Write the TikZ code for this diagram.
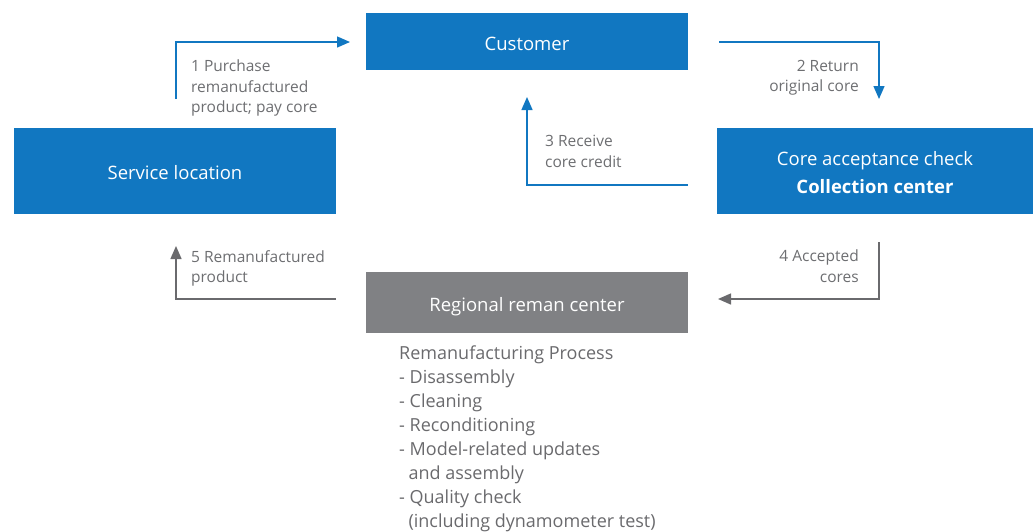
\documentclass[tikz,border=0pt]{standalone}
\usepackage{fontspec}
\setmainfont{Open Sans}
\usetikzlibrary{arrows.meta}
\definecolor{sblue}{HTML}{1177C1}
\definecolor{sgray}{HTML}{808184}
\definecolor{lgray}{HTML}{6D6E71}
\definecolor{agray}{HTML}{6A6A6D}
\tikzset{
  box/.style={fill=#1, draw=none, inner sep=0pt, outer sep=0pt},
  boxtext/.style={text=white, inner sep=0pt, font=\fontsize{18.5}{22}\selectfont, align=center},
  lbl/.style={text=lgray, inner sep=0pt, font=\fontsize{15.5}{20.5}\selectfont},
  conn/.style={draw=#1, line width=1.4pt, -{Triangle[length=13pt,width=11pt]}},
}
\begin{document}
\begin{tikzpicture}[x=1pt,y=-1pt]
\useasboundingbox (0,0) rectangle (1033,531);
\node[box=sblue, minimum width=322pt, minimum height=57pt] (cust) at (527,41.5) {};
\node[boxtext] (custt) at ([yshift=-2pt]cust.center) {Customer};
\node[box=sblue, minimum width=322pt, minimum height=86pt] (serv) at (175,171) {};
\node[boxtext] (servt) at ([yshift=-2pt]serv.center) {Service location};
\node[box=sblue, minimum width=316pt, minimum height=86pt] (core) at (875,171) {};
\node[boxtext] (coret) at ([yshift=-2pt]core.center) {Core acceptance check\\[6pt]\textbf{Collection center}};
\node[box=sgray, minimum width=322pt, minimum height=61pt] (reg) at (527,302.5) {};
\node[boxtext] (regt) at ([yshift=-4pt]reg.center) {Regional reman center};

\coordinate (s1) at (176,99);
\coordinate (e1) at (350,42);
\draw[conn=sblue] (s1) |- (e1);
\coordinate (s2) at (719,42);
\coordinate (e2) at (879,99);
\draw[conn=sblue] (s2) -| (e2);
\coordinate (s3) at (688,185);
\coordinate (e3) at (527,97);
\draw[conn=sblue] (s3) -| (e3);
\coordinate (s4) at (879,242);
\coordinate (e4) at (718,299);
\draw[conn=agray] (s4) |- (e4);
\coordinate (s5) at (336,299);
\coordinate (e5) at (176,246);
\draw[conn=agray] (s5) -| (e5);

\node[lbl, anchor=north west, align=left] (l1) at (191,60) {1 Purchase\\remanufactured\\product; pay core};
\node[lbl, anchor=north east, align=right] (l2) at (859,60) {2 Return\\original core};
\node[lbl, anchor=north west, align=left] (l3) at (545,135) {3 Receive\\core credit};
\node[lbl, anchor=north east, align=right] (l4) at (859,250) {4 Accepted\\cores};
\node[lbl, anchor=north west, align=left] (l5) at (191,250) {5 Remanufactured\\product};

\node[text=agray, inner sep=0pt, anchor=north west, align=left, font=\fontsize{18}{24}\selectfont] (proc) at (399,346)
 {Remanufacturing Process\\- Disassembly\\- Cleaning\\- Reconditioning\\- Model-related updates\\\ \ and assembly\\- Quality check\\\ \ (including dynamometer test)};
\end{tikzpicture}
\end{document}
